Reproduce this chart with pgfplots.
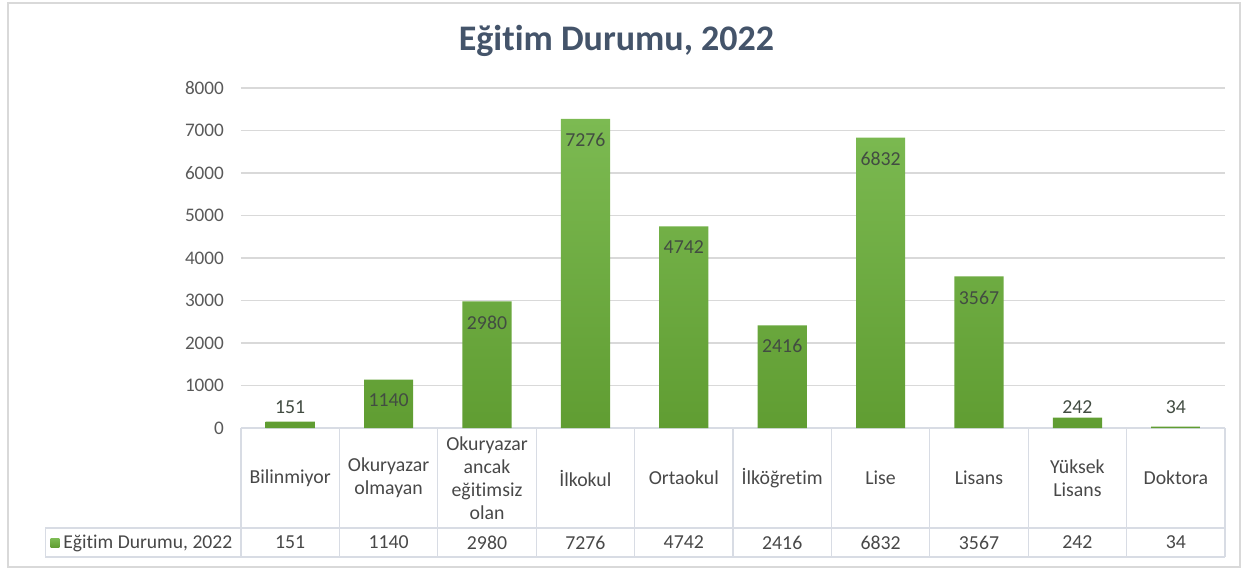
\documentclass[border=0pt]{standalone}
\usepackage{pgfplots}
\pgfplotsset{compat=1.18}
\usepackage{pgfplotstable}
\usepackage{fontspec}
\setmainfont{Carlito}[Ligatures=NoCommon]
\definecolor{titlecol}{RGB}{68,84,106}
\definecolor{tickcol}{RGB}{89,89,89}
\definecolor{tabtext}{RGB}{72,72,72}
\definecolor{gridcol}{RGB}{217,217,217}
\definecolor{tabline}{RGB}{216,220,228}
\definecolor{bartop}{RGB}{124,186,82}
\definecolor{barbot}{RGB}{96,157,50}
\definecolor{barmid}{RGB}{110,172,66}
\definecolor{labcol}{RGB}{66,76,66}

\pgfplotstableread{
x v
0 151
1 1140
2 2980
3 7276
4 4742
5 2416
6 6832
7 3567
8 242
9 34
}\datatable

\begin{document}
\begin{tikzpicture}
\useasboundingbox (0,0) rectangle (624.5pt,285pt);
\draw[gridcol, line width=0.6pt] (4pt,1.5pt) rectangle (620pt,283.5pt);
\node[anchor=base, font=\fontsize{18}{20}\selectfont\bfseries, text=titlecol] at (308.25pt,260pt) {Eğitim Durumu, 2022};
\begin{axis}[
  at={(120.5pt,71pt)}, anchor=south west,
  scale only axis, width=492pt, height=170pt,
  xmin=-0.5, xmax=9.5, ymin=0, ymax=8000,
  clip=false,
  axis line style={draw=none},
  major tick length=0pt,
  ytick={0,1000,...,8000},
  ymajorgrids, grid style={gridcol, line width=0.7pt},
  /pgf/number format/assume math mode=true,
  /pgf/number format/1000 sep={},
  yticklabel style={font=\fontsize{9.6}{11}\selectfont, text=tickcol, xshift=-5pt},
  xtick={0,...,9},
  xticklabels={Bilinmiyor, {Okuryazar\\olmayan}, {Okuryazar\\ancak\\eğitimsiz\\olan}, İlkokul, Ortaokul, İlköğretim, Lise, Lisans, {Yüksek\\Lisans}, Doktora},
  xticklabel style={font=\fontsize{9.9}{11.4}\selectfont, text=tabtext, align=center, anchor=center, yshift=-25pt},
  legend style={at={(axis description cs:-0.196,-0.338)}, anchor=west, draw=none, fill=none,
    font=\fontsize{9.8}{11}\selectfont, text=tabtext, inner sep=1pt},
  legend image code/.code={\fill[barmid] (0pt,-2.2pt) rectangle (4.4pt,2.2pt);},
]
% table lines
\draw[tabline, line width=0.6pt] (axis cs:-0.5,0) -- (axis cs:9.5,0);
\draw[tabline, line width=0.6pt] (axis cs:-2.49,-2353) -- (axis cs:9.5,-2353);
\draw[tabline, line width=0.6pt] (axis cs:-2.49,-3035) -- (axis cs:9.5,-3035);
\draw[tabline, line width=0.6pt] (axis cs:-2.49,-2353) -- (axis cs:-2.49,-3035);
\foreach \i in {-0.5,0.5,1.5,2.5,3.5,4.5,5.5,6.5,7.5,8.5,9.5}{
  \edef\tmp{\noexpand\draw[tabline, line width=0.6pt] (axis cs:\i,0) -- (axis cs:\i,-3035);}\tmp
}
\addplot[ybar, bar width=0.5, draw=none, top color=bartop, bottom color=barbot,
  nodes near coords,
  visualization depends on={y \as \rawy},
  every node near coord/.append style={anchor=center, text=labcol, font=\fontsize{9.9}{11}\selectfont,
    yshift={\rawy>1000 ? -10.5 : (10.3-\rawy*0.02125)}},
] table[x=x, y=v] \datatable;
\addlegendentry{Eğitim Durumu, 2022}
\addplot[forget plot, only marks, mark=*, mark size=0pt, mark options={draw=none, fill=none},
  point meta=explicit, nodes near coords,
  every node near coord/.append style={anchor=center, text=tabtext, font=\fontsize{9.9}{11}\selectfont},
] table[x=x, y expr=-2694, meta=v] \datatable;
\end{axis}
\end{tikzpicture}
\end{document}
